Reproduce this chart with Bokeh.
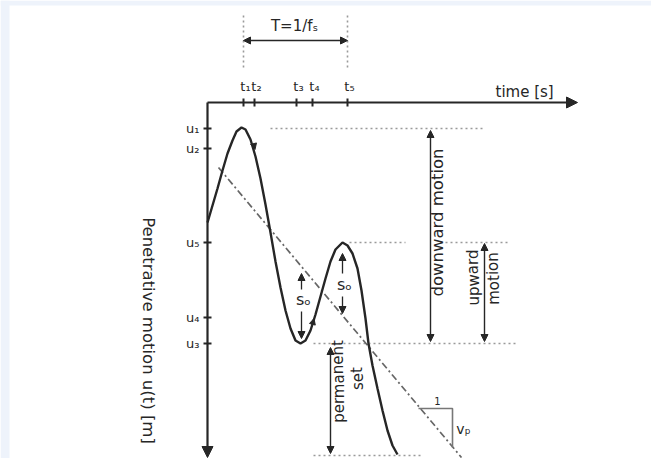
from bokeh.plotting import figure
from bokeh.models import Arrow, NormalHead, ColumnDataSource, Range1d
from bokeh.core.properties import value
from bokeh.embed import file_html
from bokeh.resources import INLINE

H = 474  # reference picture height, used to flip picture rows into data y


def fy(v):
    return [H - a for a in v]


# ---- schematic data (in picture pixel units) ----
CURVE_X = [207, 212, 217, 222, 227, 232, 236, 241, 245, 250, 255, 260, 265, 270,
           275, 280, 285, 290, 295, 300, 305, 310, 315, 320, 325, 330, 335, 342,
           347, 352, 357, 361, 365, 368, 372, 377, 382, 387, 392, 397]
CURVE_Y = [222, 205, 188, 170, 153, 140, 131, 127, 129, 139, 156, 178, 204, 232,
           261, 287, 310, 328, 340, 343, 340, 330, 314, 296, 278, 261, 249, 242,
           245, 253, 268, 290, 318, 343, 365, 388, 410, 430, 445, 454]

TREND_X = [218, 461]
TREND_Y = [167, 457]

T_TICKS = [243, 254, 296, 312, 347]
T_LABELS = ["t\u2081", "t\u2082", "t\u2083", "t\u2084", "t\u2085"]
U_TICKS = [128, 148, 242, 317, 343]
U_LABELS = ["u\u2081", "u\u2082", "u\u2085", "u\u2084", "u\u2083"]

DOT_X0 = [270, 349, 445, 313, 313, 243, 347]
DOT_X1 = [482, 405, 508, 517, 420, 243, 347]
DOT_Y0 = [128, 242, 242, 343, 455, 15, 15]
DOT_Y1 = [128, 242, 242, 343, 455, 68, 68]

AXIS_X0 = [207, 207]
AXIS_Y0 = [102, 102]
AXIS_X1 = [577, 207]
AXIS_Y1 = [102, 457]

DBL_X0 = [243, 430, 484, 330]
DBL_Y0 = [40, 130, 243, 347]
DBL_X1 = [347, 430, 484, 330]
DBL_Y1 = [40, 341, 341, 453]

SO_X0 = [301, 301, 342, 342]
SO_Y0 = [289, 311, 273, 296]
SO_X1 = [301, 301, 342, 342]
SO_Y1 = [273, 338, 253, 313]

DIR_X0 = [252.5, 311]
DIR_Y0 = [141, 327]
DIR_X1 = [254.5, 313.5]
DIR_Y1 = [149, 318]

SLOPE_X = [418, 452, 452]
SLOPE_Y = [408, 408, 447]

TXT = ["time [s]", "T=1/f\u209b", "s\u2092", "s\u2092", "v\u209a", "1"]
TXT_X = [495, 294, 303, 344, 463, 437]
TXT_Y = [91, 25, 299, 284, 428, 400]
TXT_SIZE = ["15px", "15px", "16px", "16px", "14px", "10px"]
TXT_ALIGN = ["left", "center", "center", "center", "center", "center"]

ROT_TXT = ["Penetrative motion u(t) [m]", "downward motion", "upward", "motion",
           "permanent", "set"]
ROT_X = [148, 437, 473, 493, 338, 357]
ROT_Y = [330, 222, 277, 278, 381, 378]
ROT_SIZE = ["16.5px", "16.5px", "15px", "15px", "15px", "15px"]
ROT_ANGLE = [-1.5708, 1.5708, 1.5708, 1.5708, 1.5708, 1.5708]

# light frame band of the reference picture (left and top edges)
BAND_LEFT = [0, 0, 9, H]
BAND_TOP = [0, 0, 667, 5]

FONT = value("DejaVu Sans")
INK = "#262626"

p = figure(width=651, height=458, x_range=Range1d(0, 651), y_range=Range1d(H - 458, H),
           output_backend="svg", toolbar_location=None, min_border=0,
           x_axis_location=None, y_axis_location=None)
p.grid.visible = False
p.outline_line_color = None
p.background_fill_color = "white"
p.border_fill_color = "white"

for bx0, by0, bx1, by1 in (BAND_LEFT, BAND_TOP):
    p.quad(left=[bx0], right=[bx1], top=[H - by0], bottom=[H - by1],
           fill_color="#eef3fb", line_color=None)

# dotted helper lines
p.segment(DOT_X0, fy(DOT_Y0), DOT_X1, fy(DOT_Y1), line_color="#9a9a9a",
          line_width=1.6, line_dash="2 3")

# trend (dash-dot) line
p.line(TREND_X, fy(TREND_Y), line_color="#666666", line_width=1.7,
       line_dash="7 3 2 3")

# slope triangle
p.line(SLOPE_X, fy(SLOPE_Y), line_color="#777777", line_width=1.6)

# main curve
p.line(CURVE_X, fy(CURVE_Y), line_color=INK, line_width=2.4)

# axes with arrowheads
p.add_layout(Arrow(end=NormalHead(size=11, fill_color=INK, line_color=INK),
                   line_color=INK, line_width=2.2,
                   source=ColumnDataSource(dict(x0=AXIS_X0, y0=fy(AXIS_Y0),
                                                x1=AXIS_X1, y1=fy(AXIS_Y1))),
                   x_start="x0", y_start="y0", x_end="x1", y_end="y1"))

# ticks
p.segment(T_TICKS, [H - 98] * len(T_TICKS), T_TICKS, [H - 106] * len(T_TICKS),
          line_color=INK, line_width=2)
p.segment([203] * len(U_TICKS), fy(U_TICKS), [211] * len(U_TICKS), fy(U_TICKS),
          line_color=INK, line_width=2)
p.text([t + 2 for t in T_TICKS], [H - 86] * len(T_TICKS), text=T_LABELS,
       text_font=FONT, text_font_size="13px", text_align="center",
       text_baseline="middle", text_color=INK)
p.text([199] * len(U_TICKS), fy(U_TICKS), text=U_LABELS, text_font=FONT,
       text_font_size="13px", text_align="right", text_baseline="middle",
       text_color=INK)

# double arrows
p.add_layout(Arrow(start=NormalHead(size=7, fill_color=INK, line_color=INK),
                   end=NormalHead(size=7, fill_color=INK, line_color=INK),
                   line_color=INK, line_width=1.4,
                   source=ColumnDataSource(dict(x0=DBL_X0, y0=fy(DBL_Y0),
                                                x1=DBL_X1, y1=fy(DBL_Y1))),
                   x_start="x0", y_start="y0", x_end="x1", y_end="y1"))

# s_o arrows
p.add_layout(Arrow(end=NormalHead(size=7, fill_color=INK, line_color=INK),
                   line_color=INK, line_width=1.3,
                   source=ColumnDataSource(dict(x0=SO_X0, y0=fy(SO_Y0),
                                                x1=SO_X1, y1=fy(SO_Y1))),
                   x_start="x0", y_start="y0", x_end="x1", y_end="y1"))

# direction marks on the curve
p.add_layout(Arrow(end=NormalHead(size=6, fill_color=INK, line_color=INK),
                   line_color=INK, line_width=0.1,
                   source=ColumnDataSource(dict(x0=DIR_X0, y0=fy(DIR_Y0),
                                                x1=DIR_X1, y1=fy(DIR_Y1))),
                   x_start="x0", y_start="y0", x_end="x1", y_end="y1"))

# texts
for t, x, y, s, a in zip(TXT, TXT_X, TXT_Y, TXT_SIZE, TXT_ALIGN):
    p.text([x], [H - y], text=[t], text_font=FONT, text_font_size=s,
           text_align=a, text_baseline="middle", text_color=INK)

for t, x, y, s, ang in zip(ROT_TXT, ROT_X, ROT_Y, ROT_SIZE, ROT_ANGLE):
    p.text([x], [H - y], text=[t], angle=[ang], text_font=FONT,
           text_font_size=s, text_align="center", text_baseline="middle",
           text_color=INK)

open("out.html", "w").write(file_html(p, INLINE))
